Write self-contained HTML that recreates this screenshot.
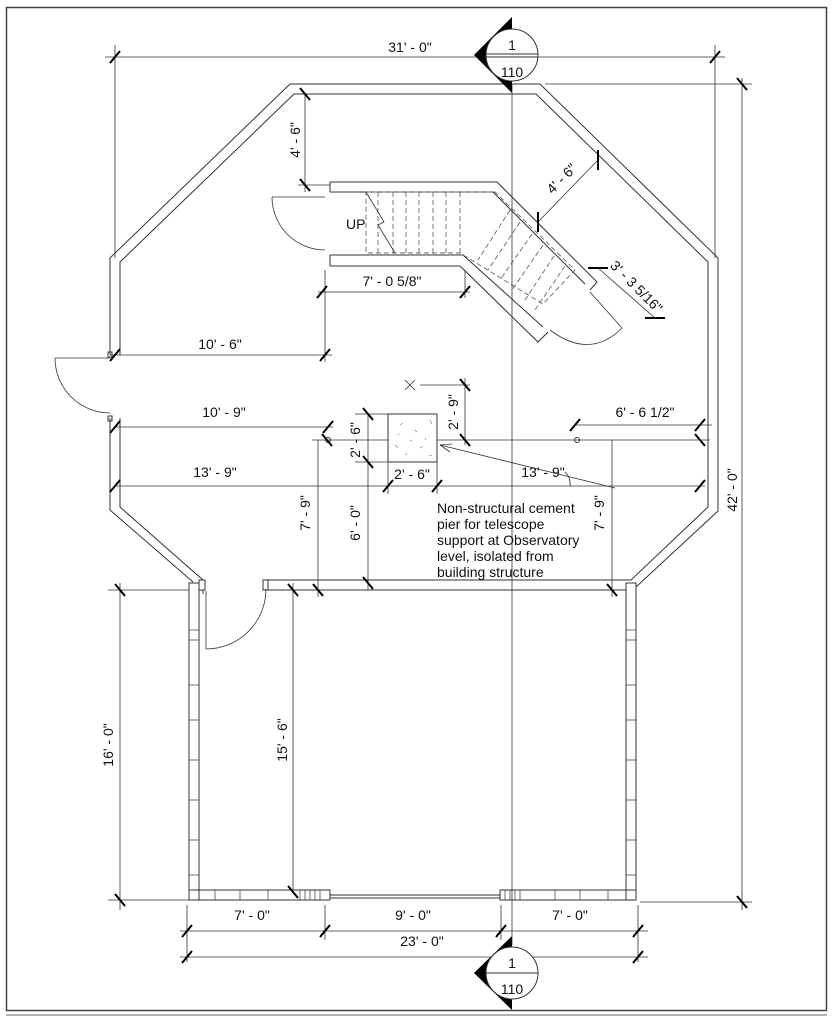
<!DOCTYPE html>
<html><head><meta charset="utf-8"><style>
html,body{margin:0;padding:0;background:#fff}
svg{display:block}
text{font-family:"Liberation Sans",sans-serif;font-size:14px;fill:#111}
</style></head><body>
<svg width="833" height="1024" viewBox="0 0 833 1024" xmlns="http://www.w3.org/2000/svg">
<g fill="none" stroke="#333" stroke-width="1">
<rect x="6.5" y="7.5" width="820" height="1003" stroke="#444" stroke-width="1.5"/>
<line x1="6" y1="1015" x2="827" y2="1015" stroke="#666"/>
<polyline points="110,355 110,258 290,84 540,84 718,258 718,511 636,587"/>
<polyline points="110,418 110,510 193,582"/>
<polyline points="120,355 120,262 294,94 536,94 708,262 708,507 631,580 265,580"/>
<polyline points="120,418 120,507 203,580"/>
<line x1="265" y1="590" x2="626" y2="590"/>
<line x1="203" y1="590" x2="203" y2="594"/>
<path d="M55,358 L110,358 M55,358 A55,55 0 0 0 110,413" stroke-width="0.8"/>
<rect x="108" y="352" width="4" height="5"/><rect x="108" y="416" width="4" height="5"/>
<rect x="189" y="583" width="10" height="317"/>
<rect x="626" y="583" width="10" height="317"/>
<rect x="189" y="890" width="141" height="10"/>
<rect x="500" y="890" width="136" height="10"/>
<line x1="330" y1="895" x2="500" y2="895"/><line x1="330" y1="898" x2="500" y2="898"/>
<g stroke-width="0.7">
<line x1="189" y1="630" x2="199" y2="630"/><line x1="189" y1="640" x2="199" y2="640"/>
<line x1="189" y1="685" x2="199" y2="685"/><line x1="189" y1="720" x2="199" y2="720"/>
<line x1="189" y1="760" x2="199" y2="760"/><line x1="189" y1="800" x2="199" y2="800"/>
<line x1="189" y1="840" x2="199" y2="840"/><line x1="189" y1="875" x2="199" y2="875"/>
<line x1="626" y1="630" x2="636" y2="630"/><line x1="626" y1="640" x2="636" y2="640"/>
<line x1="626" y1="685" x2="636" y2="685"/><line x1="626" y1="720" x2="636" y2="720"/>
<line x1="626" y1="760" x2="636" y2="760"/><line x1="626" y1="800" x2="636" y2="800"/>
<line x1="626" y1="840" x2="636" y2="840"/><line x1="626" y1="875" x2="636" y2="875"/>
<line x1="215" y1="890" x2="215" y2="900"/><line x1="240" y1="890" x2="240" y2="900"/><line x1="268" y1="890" x2="268" y2="900"/>
<line x1="300" y1="890" x2="300" y2="900"/><line x1="305" y1="890" x2="305" y2="900"/><line x1="310" y1="890" x2="310" y2="900"/><line x1="315" y1="890" x2="315" y2="900"/><line x1="320" y1="890" x2="320" y2="900"/>
<line x1="505" y1="890" x2="505" y2="900"/><line x1="510" y1="890" x2="510" y2="900"/><line x1="515" y1="890" x2="515" y2="900"/><line x1="520" y1="890" x2="520" y2="900"/>
<line x1="555" y1="890" x2="555" y2="900"/><line x1="580" y1="890" x2="580" y2="900"/><line x1="608" y1="890" x2="608" y2="900"/>
</g>
<path d="M206,591 L206,649 M206,649 A60,60 0 0 0 266,589" stroke-width="0.8"/>
<rect x="199" y="580" width="6" height="10"/><rect x="263" y="580" width="5" height="10"/>
<polyline points="330,182 497,182 597,282 590,290"/>
<polyline points="330,192 493,192 585,284"/>
<polyline points="330,255 463,255 543,327"/>
<polyline points="330,266 460,266 538,342 548,332"/>
<line x1="330" y1="182" x2="330" y2="192"/><line x1="330" y1="255" x2="330" y2="266"/>
<path d="M272,197 L325,197 M272,197 A53,53 0 0 0 325,250" stroke-width="0.8"/>
<path d="M590,292 L622,328 M622,328 Q590,360 550,330" stroke-width="0.8"/>
<g stroke="#666" stroke-dasharray="5,3" stroke-width="0.9">
<polyline points="366,192 495,192 575,270 543,304 460,253 366,253 366,192"/>
<line x1="378" y1="192" x2="378" y2="253"/><line x1="393" y1="192" x2="393" y2="253"/>
<line x1="406" y1="192" x2="406" y2="253"/><line x1="419" y1="192" x2="419" y2="253"/>
<line x1="433" y1="192" x2="433" y2="253"/><line x1="446" y1="192" x2="446" y2="253"/>
<line x1="460" y1="192" x2="460" y2="253"/>
<line x1="510" y1="210" x2="478" y2="260"/><line x1="520" y1="222" x2="488" y2="270"/>
<line x1="532" y1="234" x2="500" y2="280"/><line x1="543" y1="245" x2="512" y2="290"/>
<line x1="554" y1="256" x2="525" y2="300"/><line x1="565" y1="266" x2="535" y2="310"/>
</g>
<polyline points="366,192 384,222 378,225 395,253" stroke-width="0.8"/>
<line x1="512" y1="84" x2="512" y2="945" stroke-width="0.8"/>
<g stroke-width="0.8">
<line x1="105" y1="57" x2="725" y2="57"/>
<line x1="115" y1="45" x2="115" y2="258"/><line x1="715" y1="45" x2="715" y2="258"/>
<line x1="545" y1="84" x2="752" y2="84"/>
<line x1="742" y1="78" x2="742" y2="910"/>
<line x1="640" y1="902" x2="752" y2="902"/>
<line x1="108" y1="590" x2="189" y2="590"/><line x1="108" y1="900" x2="189" y2="900"/>
<line x1="120" y1="583" x2="120" y2="910"/>
<line x1="293" y1="583" x2="293" y2="892"/>
<line x1="305" y1="94" x2="305" y2="192"/><line x1="298" y1="185" x2="330" y2="185"/>
<line x1="325" y1="270" x2="325" y2="362"/><line x1="465" y1="270" x2="465" y2="298"/>
<line x1="318" y1="292" x2="470" y2="292"/>
<line x1="110" y1="355" x2="332" y2="355"/>
<line x1="115" y1="427" x2="333" y2="427"/>
<line x1="115" y1="486" x2="705" y2="486"/>
<line x1="575" y1="425" x2="712" y2="425"/>
<line x1="312" y1="440" x2="388" y2="440"/><line x1="437" y1="440" x2="710" y2="440"/>
<line x1="318" y1="440" x2="318" y2="597"/><line x1="612" y1="440" x2="612" y2="597"/>
<line x1="368" y1="414" x2="368" y2="590"/>
<line x1="355" y1="414" x2="388" y2="414"/><line x1="355" y1="462" x2="388" y2="462"/>
<line x1="388" y1="462" x2="388" y2="494"/><line x1="437" y1="462" x2="437" y2="494"/>
<line x1="465" y1="378" x2="465" y2="445"/><line x1="420" y1="385" x2="470" y2="385"/>
<line x1="187" y1="905" x2="187" y2="962"/><line x1="325" y1="905" x2="325" y2="940"/>
<line x1="501" y1="905" x2="501" y2="940"/><line x1="638" y1="905" x2="638" y2="962"/>
<line x1="180" y1="931" x2="648" y2="931"/><line x1="180" y1="957" x2="648" y2="957"/>
<line x1="538" y1="222" x2="598" y2="160"/>
<line x1="598" y1="268" x2="655" y2="318"/>
<path d="M615,488 L440,445 M440,445 l12,-1 M440,445 l10,7"/>
<path d="M565,472 Q571,478 570,486"/>
</g>
<circle cx="328" cy="440" r="2.5"/><circle cx="577" cy="440" r="2.5"/>
<path d="M405,380 l10,10 M415,380 l-10,10" stroke-width="0.8"/>
<rect x="388" y="414" width="49" height="48"/>
<g stroke="#777" stroke-width="0.6"><path d="M400,425 l3,-2 M415,430 l2,2 M395,445 l3,3 M420,448 l3,-2 M430,420 l2,4 M405,455 l2,-2 M425,438 l1,2 M410,440 l2,1 M432,455 l-3,1 M398,434 l1,1"/></g>
</g>
<g stroke="#000" stroke-width="2">
<path d="M110,63 l10,-12 M710,63 l10,-12 M737,78 l10,12 M737,896 l10,12 M115,584 l10,12 M115,894 l10,12 M288,584 l10,12 M288,886 l10,12 M300,88 l10,12 M300,179 l10,12 M317,298 l10,-12 M460,298 l10,-12 M320,361 l10,-12 M110,361 l10,-12 M110,433 l10,-12 M323,433 l10,-12 M110,492 l10,-12 M695,492 l10,-12 M695,431 l10,-12 M570,431 l10,-12 M322,434 l10,12 M695,434 l10,12 M313,584 l10,12 M607,584 l10,12 M363,408 l10,12 M363,456 l10,12 M363,577 l10,12 M383,492 l10,-12 M432,492 l10,-12 M460,379 l10,12 M460,434 l10,12 M182,937 l10,-12 M320,937 l10,-12 M496,937 l10,-12 M633,937 l10,-12 M182,963 l10,-12 M633,963 l10,-12 M538,212 l0,20 M598,150 l0,20 M588,268 l20,0 M645,318 l20,0"/>
</g>
<!-- section markers -->
<polygon points="512,17 474,55 512,93" fill="#000"/>
<polygon points="512,936 474,973 512,1010" fill="#000"/>
<g stroke="#333" stroke-width="1" fill="#fff">
<circle cx="512" cy="55" r="26"/>
<circle cx="512" cy="973" r="26"/>
</g>
<g stroke="#333" stroke-width="1">
<line x1="486" y1="54" x2="538" y2="54"/><line x1="486" y1="57" x2="538" y2="57"/>
<line x1="486" y1="973" x2="538" y2="973"/>
</g>
<text x="512" y="50" text-anchor="middle">1</text>
<text x="512" y="77" text-anchor="middle">110</text>
<text x="512" y="968" text-anchor="middle">1</text>
<text x="512" y="994" text-anchor="middle">110</text>
<text x="410" y="52" text-anchor="middle">31' - 0"</text>
<text x="346" y="229">UP</text>
<text x="392" y="286" text-anchor="middle">7' - 0 5/8"</text>
<text x="220" y="349" text-anchor="middle">10' - 6"</text>
<text x="224" y="417" text-anchor="middle">10' - 9"</text>
<text x="645" y="417" text-anchor="middle">6' - 6 1/2"</text>
<text x="215" y="477" text-anchor="middle">13' - 9"</text>
<text x="543" y="477" text-anchor="middle">13' - 9"</text>
<text x="412" y="479" text-anchor="middle">2' - 6"</text>
<text x="252" y="920" text-anchor="middle">7' - 0"</text>
<text x="413" y="920" text-anchor="middle">9' - 0"</text>
<text x="570" y="920" text-anchor="middle">7' - 0"</text>
<text x="422" y="946" text-anchor="middle">23' - 0"</text>
<text transform="translate(300,140) rotate(-90)" text-anchor="middle">4' - 6"</text>
<text transform="translate(360,440) rotate(-90)" text-anchor="middle">2' - 6"</text>
<text transform="translate(458,412) rotate(-90)" text-anchor="middle">2' - 9"</text>
<text transform="translate(360,523) rotate(-90)" text-anchor="middle">6' - 0"</text>
<text transform="translate(310,513) rotate(-90)" text-anchor="middle">7' - 9"</text>
<text transform="translate(604,513) rotate(-90)" text-anchor="middle">7' - 9"</text>
<text transform="translate(737,490) rotate(-90)" text-anchor="middle">42' - 0"</text>
<text transform="translate(113,745) rotate(-90)" text-anchor="middle">16' - 0"</text>
<text transform="translate(287,740) rotate(-90)" text-anchor="middle">15' - 6"</text>
<text transform="translate(565,182) rotate(-45)" text-anchor="middle">4' - 6"</text>
<text transform="translate(633,290) rotate(45)" text-anchor="middle">3' - 3 5/16"</text>
<text x="437" y="513">Non-structural cement</text>
<text x="437" y="529">pier for telescope</text>
<text x="437" y="545">support at Observatory</text>
<text x="437" y="561">level, isolated from</text>
<text x="437" y="577">building structure</text>
</svg>
</body></html>
